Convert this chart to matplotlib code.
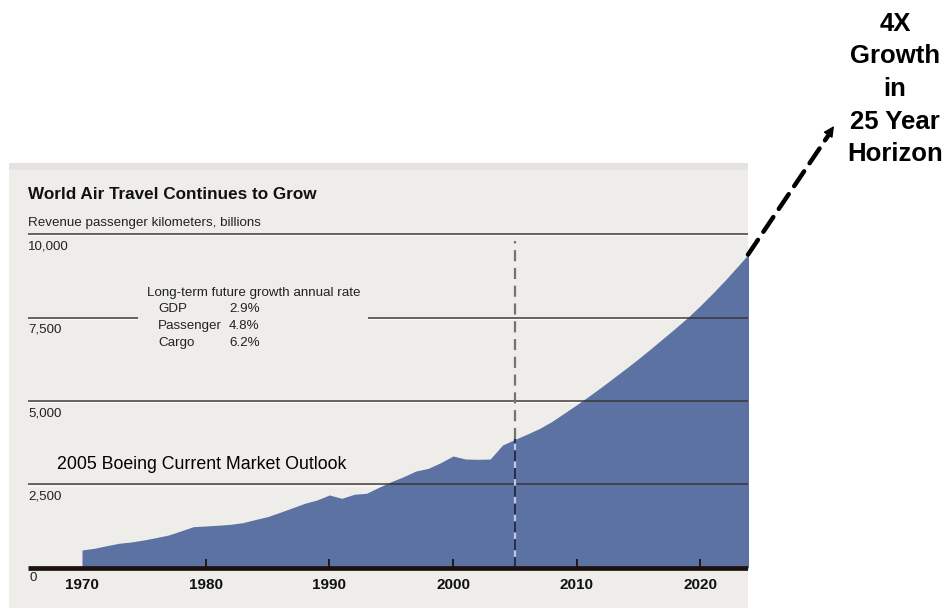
import numpy as np
import matplotlib.pyplot as plt
import matplotlib.transforms as mtransforms

# Revenue passenger kilometers (billions): history through 2005, forecast after
hist_years = [1970, 1971, 1972, 1973, 1974, 1975, 1976, 1977, 1978, 1979,
              1980, 1981, 1982, 1983, 1984, 1985, 1986, 1987, 1988, 1989,
              1990, 1991, 1992, 1993, 1994, 1995, 1996, 1997, 1998, 1999,
              2000, 2001, 2002, 2003, 2004, 2005]
hist_rpk = [539, 590, 668, 740, 780, 838, 910, 988, 1110, 1237,
            1257, 1280, 1307, 1357, 1450, 1537, 1666, 1800, 1936, 2036,
            2186, 2086, 2206, 2236, 2416, 2585, 2735, 2904, 2984, 3153,
            3353, 3263, 3253, 3263, 3683, 3850]
fcst_years = [2006, 2007, 2008, 2009, 2010, 2011, 2012, 2013, 2014, 2015,
              2016, 2017, 2018, 2019, 2020, 2021, 2022, 2023, 2024]
fcst_rpk = [4010, 4180, 4390, 4640, 4890, 5150, 5420, 5700, 5980, 6270,
            6570, 6880, 7190, 7510, 7860, 8230, 8620, 9030, 9450]

y_ticks = [2500, 5000, 7500, 10000]
y_tick_labels = ["2,500", "5,000", "7,500", "10,000"]
x_ticks = [1970, 1980, 1990, 2000, 2010, 2020]
outlook_year = 2005

growth_labels = ["GDP", "Passenger", "Cargo"]
growth_rates = ["2.9%", "4.8%", "6.2%"]

years = np.array(hist_years + fcst_years, dtype=float)
rpk = np.array(hist_rpk + fcst_rpk, dtype=float)

PANEL = "#eeede9"
AREA = "#5b72a3"
GRID = "#3b3331"
AXIS = "#1c120e"
SANS = ["Liberation Sans", "DejaVu Sans"]
SMALL = 9.6

fig = plt.figure(figsize=(9.46, 6.09), dpi=100)
fig.patch.set_facecolor("white")

ax = fig.add_axes([9 / 946, 1 / 609, 739 / 946, 445 / 609])
ax.set_facecolor(PANEL)
x_min, x_max = 1964.10, 2023.84
ax.set_xlim(x_min, x_max)
ax.set_ylim(-1198, 12126)
for s in ax.spines.values():
    s.set_visible(False)
ax.set_xticks([])
ax.set_yticks([])

# slightly darker band along the top of the panel
ax.axhspan(11930, 12126, color="#e5e3df", lw=0, zorder=0)

ax.fill_between(years, rpk, 0, color=AREA, lw=0, zorder=1)

# horizontal rules; the 7,500 one is broken around the growth-rate note
line_x0 = 1965.63
below = mtransforms.offset_copy(ax.transData, fig=fig, y=-1.4, units="dots")
rule_spans = {v: [(line_x0, x_max)] for v in y_ticks}
rule_spans[7500] = [(line_x0, 1974.53), (1993.12, x_max)]
for v in y_ticks:
    for x0, x1 in rule_spans[v]:
        ax.hlines(v, x0, x1, color="white", lw=0.8, alpha=0.9, zorder=0.5,
                  transform=below)
        ax.hlines(v, x0, x1, color=GRID, lw=1.4, alpha=0.75, zorder=2)
for v, lab in zip(y_ticks, y_tick_labels):
    ax.annotate(lab, (line_x0, v), xytext=(0, -4.5), textcoords="offset points",
                ha="left", va="top", fontsize=SMALL, family=SANS, color="#222222")
ax.annotate("0", (line_x0, 0), xytext=(1, -3), textcoords="offset points",
            ha="left", va="top", fontsize=SMALL, family=SANS, color="#222222")

# 2005 outlook marker
v2005 = np.interp(outlook_year, years, rpk)
ax.vlines(outlook_year, 0, v2005, color="#b9cbea", lw=1.6, zorder=3)
ax.vlines(outlook_year, 0, v2005, color="#26304c", lw=1.6, zorder=4,
          linestyles=(0, (5, 3)))
ax.vlines(outlook_year, v2005, 9800, color="#77726e", lw=1.6, zorder=4,
          linestyles=(0, (5, 3)))

# baseline and x ticks
ax.hlines(0, line_x0, x_max, color=AXIS, lw=3.4, zorder=5)
ax.vlines(x_ticks[1:], 0, 280, color=AXIS, lw=1.3, zorder=5)
for yr in x_ticks:
    ax.annotate(str(yr), (yr, 0), xytext=(0, -7), textcoords="offset points",
                ha="center", va="top", fontsize=11, fontweight="bold",
                family=SANS, color="#111111")

# titles
ax.text(line_x0, 11168, "World Air Travel Continues to Grow", fontsize=12.3,
        fontweight="bold", family=SANS, va="center", ha="left", color="#111111")
ax.text(line_x0, 10329, "Revenue passenger kilometers, billions", fontsize=SMALL,
        family=SANS, va="center", ha="left", color="#222222")

# growth-rate note
ax.text(1975.25, 8234, "Long-term future growth annual rate", fontsize=SMALL,
        family=SANS, va="center", ha="left", color="#222222")
for i, (lab, rate) in enumerate(zip(growth_labels, growth_rates)):
    yv = 7755 - i * 509
    ax.text(1976.14, yv, lab, fontsize=SMALL, family=SANS, va="center",
            ha="left", color="#222222")
    ax.text(1981.88, yv, rate, fontsize=SMALL, family=SANS, va="center",
            ha="left", color="#222222")

ax.text(1967.98, 3084, "2005 Boeing Current Market Outlook", fontsize=12.8,
        family=SANS, va="center", ha="left", color="black")

# dashed arrow off the end of the forecast
v_end = np.interp(x_max, years, rpk)
tip = (834, 609 - 126)
ax.annotate("", xy=(836, 609 - 124), xycoords="figure pixels",
            xytext=(x_max, v_end), textcoords="data",
            arrowprops=dict(arrowstyle="-", lw=3.2, color="black",
                            linestyle=(0, (4, 2.2)), shrinkA=0, shrinkB=7),
            annotation_clip=False)
ax.annotate("", xy=tip, xycoords="figure pixels",
            xytext=(826, 609 - 138), textcoords="figure pixels",
            arrowprops=dict(arrowstyle="-|>", lw=1, color="black",
                            mutation_scale=16, shrinkA=0, shrinkB=0),
            annotation_clip=False)

fig.text(895 / 946, 1 - 89 / 609, "4X\nGrowth\nin\n25 Year\nHorizon",
         ha="center", va="center", fontsize=18.5, fontweight="bold",
         family=SANS, linespacing=1.45, color="black")

fig.savefig("out.png", dpi=100)
